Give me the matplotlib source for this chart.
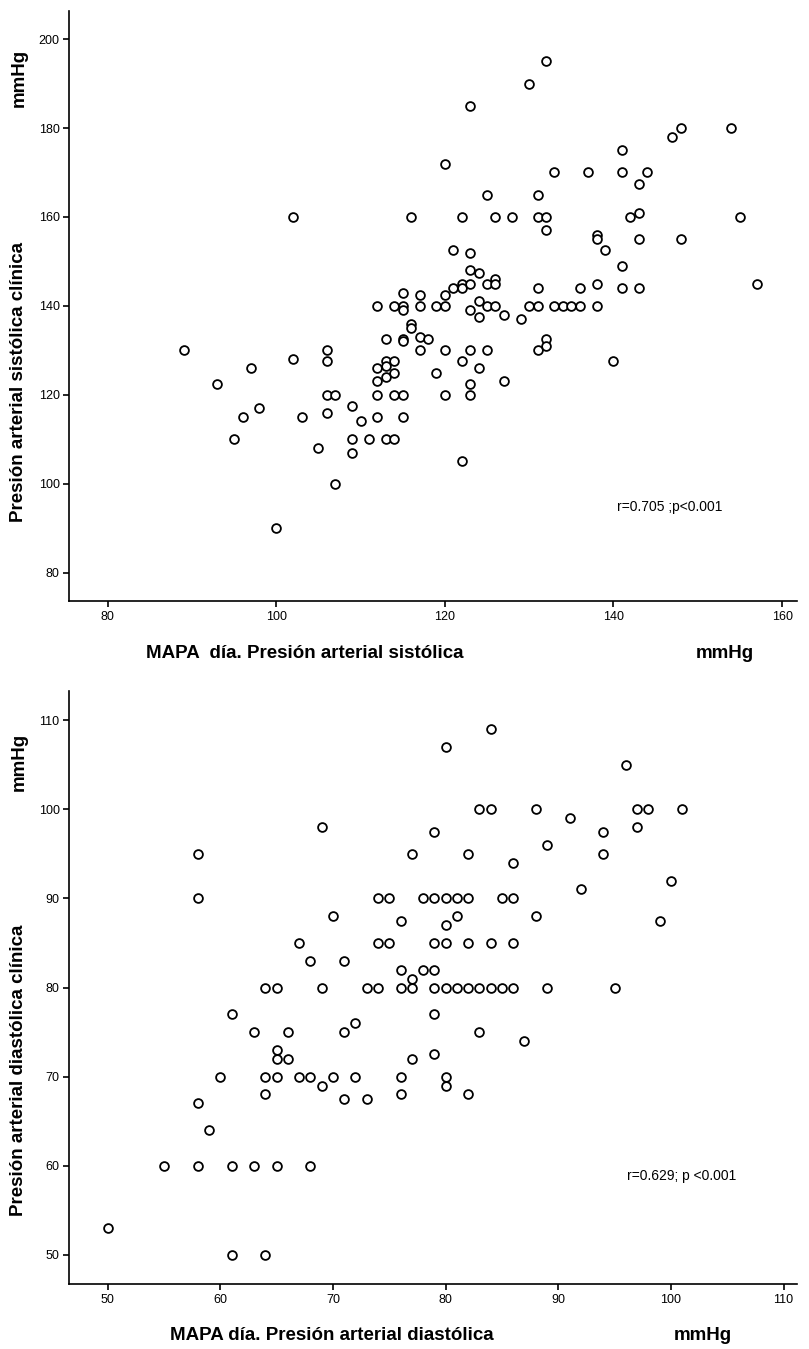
import matplotlib
matplotlib.use("Agg")
import matplotlib.pyplot as plt

plt.rcParams['font.family'] = ['Liberation Sans', 'DejaVu Sans']

# MAPA dia (x) vs presion clinica (y), sistolica
sys_mapa = [89, 93, 95, 96, 97, 98, 100, 102, 102, 103, 105, 106, 106, 106, 106, 107, 107,
            109, 109, 109, 110, 111, 112, 112, 112, 112, 112, 113, 113, 113, 113, 113, 114,
            114, 114, 114, 114, 115, 115, 115, 115, 115, 115, 115, 116, 116, 116, 117, 117,
            117, 117, 118, 119, 119, 120, 120, 120, 120, 120, 121, 121, 122, 122, 122, 122,
            122, 123, 123, 123, 123, 123, 123, 123, 123, 124, 124, 124, 124, 125, 125, 125,
            125, 126, 126, 126, 126, 127, 127, 128, 129, 130, 130, 131, 131, 131, 131, 131,
            132, 132, 132, 132, 132, 133, 133, 134, 135, 136, 136, 137, 138, 138, 138, 138,
            139, 140, 141, 141, 141, 141, 142, 143, 143, 143, 143, 144, 147, 148, 148, 154,
            155, 157]
sys_clin = [130, 122.5, 110, 115, 126, 117, 90, 160, 128, 115, 108, 130, 127.5, 120, 116, 120, 100,
            117.5, 110, 107, 114, 110, 140, 126, 123, 120, 115, 110, 132.5, 127.5, 126.5, 124, 140,
            127.5, 125, 120, 110, 143, 140, 139, 132.5, 132, 120, 115, 160, 136, 135, 142.5, 140,
            133, 130, 132.5, 140, 125, 172, 142.5, 140, 130, 120, 152.5, 144, 160, 145, 144, 127.5,
            105, 185, 152, 148, 145, 139, 130, 122.5, 120, 147.5, 141, 137.5, 126, 165, 145, 140,
            130, 160, 146, 145, 140, 138, 123, 160, 137, 190, 140, 165, 160, 144, 140, 130,
            195, 160, 157, 132.5, 131, 170, 140, 140, 140, 144, 140, 170, 156, 155, 145, 140,
            152.5, 127.5, 175, 170, 149, 144, 160, 167.5, 161, 155, 144, 170, 178, 180, 155, 180,
            160, 145]

# diastolica
dia_mapa = [50, 55, 58, 58, 58, 58, 59, 60, 61, 61, 61, 63, 63, 64, 64, 64, 64, 65, 65, 65,
            65, 65, 66, 66, 67, 67, 68, 68, 68, 69, 69, 69, 70, 70, 71, 71, 71, 72, 72, 73,
            73, 74, 74, 74, 75, 75, 76, 76, 76, 76, 76, 77, 77, 77, 77, 78, 78, 79, 79, 79,
            79, 79, 79, 79, 80, 80, 80, 80, 80, 80, 80, 81, 81, 81, 82, 82, 82, 82, 82, 83,
            83, 83, 84, 84, 84, 84, 85, 85, 86, 86, 86, 86, 87, 88, 88, 89, 89, 91, 92, 94,
            94, 95, 96, 97, 97, 98, 99, 100, 101]
dia_clin = [53, 60, 95, 90, 67, 60, 64, 70, 77, 60, 50, 75, 60, 80, 70, 68, 50, 80, 73, 72,
            70, 60, 75, 72, 85, 70, 83, 70, 60, 98, 80, 69, 88, 70, 83, 75, 67.5, 76, 70, 80,
            67.5, 90, 85, 80, 90, 85, 87.5, 82, 80, 70, 68, 95, 81, 80, 72, 90, 82, 97.5, 90, 85,
            82, 80, 77, 72.5, 107, 90, 87, 85, 80, 70, 69, 90, 88, 80, 95, 90, 85, 80, 68, 100,
            80, 75, 109, 100, 85, 80, 90, 80, 94, 90, 85, 80, 74, 100, 88, 96, 80, 99, 91, 97.5,
            95, 80, 105, 100, 98, 100, 87.5, 92, 100]

W, H = 809, 1349
fig = plt.figure(figsize=(W / 100, H / 100), dpi=100)


def make_axes(left, right, top, bottom):
    return fig.add_axes([left / W, 1 - bottom / H, (right - left) / W, (bottom - top) / H])


def style(ax):
    for s in ['top', 'right']:
        ax.spines[s].set_visible(False)
    for s in ['left', 'bottom']:
        ax.spines[s].set_linewidth(1.2)
    ax.tick_params(direction='out', length=4, width=1.2, labelsize=9, pad=3)


ax1 = make_axes(69.3, 797, 10.7, 601)
ax1.scatter(sys_mapa, sys_clin, s=40, facecolors='white', edgecolors='black', linewidths=1.3, zorder=3)
ax1.set_xlim(75.45, 161.77)
ax1.set_ylim(73.6, 206.4)
ax1.set_xticks([80, 100, 120, 140, 160])
ax1.set_yticks([80, 100, 120, 140, 160, 180, 200])
style(ax1)
ax1.text(140.4, 94.8, 'r=0.705 ;p<0.001', fontsize=10, ha='left', va='center')

ax2 = make_axes(69.3, 797, 690.7, 1284.3)
ax2.scatter(dia_mapa, dia_clin, s=40, facecolors='white', edgecolors='black', linewidths=1.3, zorder=3)
ax2.set_xlim(46.6, 111.19)
ax2.set_ylim(46.7, 113.3)
ax2.set_xticks([50, 60, 70, 80, 90, 100, 110])
ax2.set_yticks([50, 60, 70, 80, 90, 100, 110])
style(ax2)
ax2.text(96.1, 58.8, 'r=0.629; p <0.001', fontsize=10, ha='left', va='center')

# axis titles (SPSS style, units at the end)
bold = dict(fontsize=13.5, fontweight='bold')
fig.text(305 / W, 1 - 653 / H, 'MAPA  día. Presión arterial sistólica', ha='center', va='center', **bold)
fig.text(725 / W, 1 - 653 / H, 'mmHg', ha='center', va='center', **bold)
fig.text(19 / W, 1 - 382 / H, 'Presión arterial sistólica clínica', rotation=90, ha='center', va='center', **bold)
fig.text(19 / W, 1 - 78 / H, 'mmHg', rotation=90, ha='center', va='center', **bold)

fig.text(332 / W, 1 - 1335 / H, 'MAPA día. Presión arterial diastólica', ha='center', va='center', **bold)
fig.text(703 / W, 1 - 1335 / H, 'mmHg', ha='center', va='center', **bold)
fig.text(19 / W, 1 - 1070 / H, 'Presión arterial diastólica clínica', rotation=90, ha='center', va='center', **bold)
fig.text(19 / W, 1 - 762 / H, 'mmHg', rotation=90, ha='center', va='center', **bold)

fig.savefig('out.png', dpi=100)
